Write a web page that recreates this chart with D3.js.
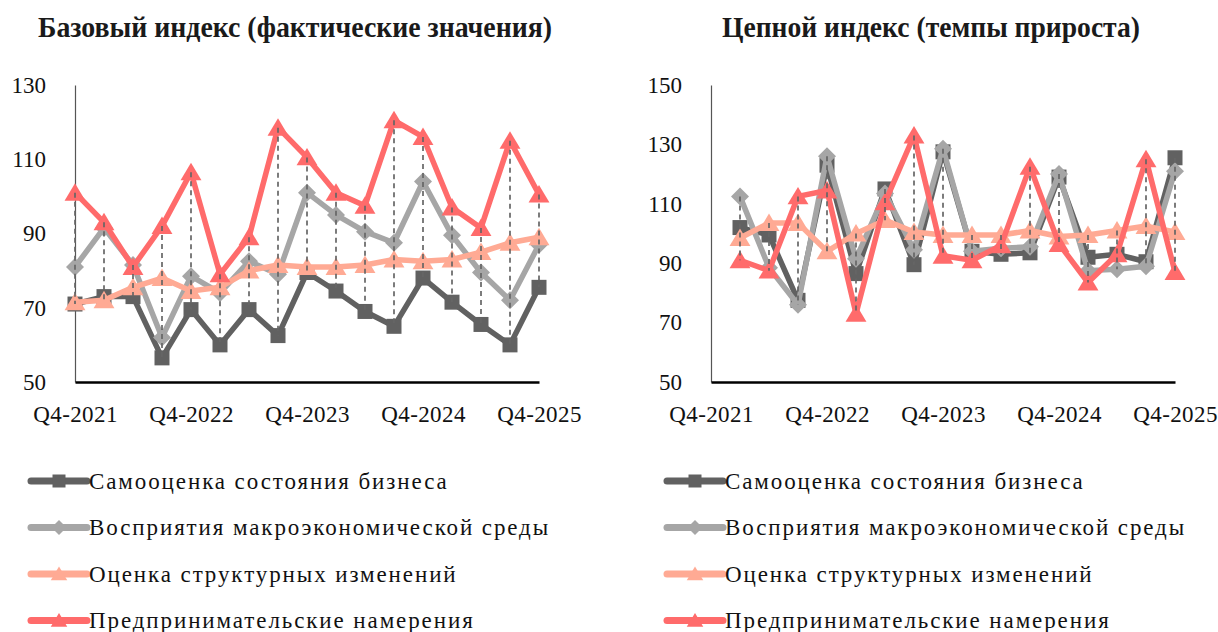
<!DOCTYPE html>
<meta charset="utf-8">
<body style="margin:0; background:#fff;">
<div id="chart"></div>
<script src="https://d3js.org/d3.v7.min.js"></script>
<script>
const quarters = ["Q4-2021", "Q1-2022", "Q2-2022", "Q3-2022", "Q4-2022", "Q1-2023", "Q2-2023", "Q3-2023",
  "Q4-2023", "Q1-2024", "Q2-2024", "Q3-2024", "Q4-2024", "Q1-2025", "Q2-2025", "Q3-2025", "Q4-2025"];
const tickLabels = ["Q4-2021", "Q4-2022", "Q4-2023", "Q4-2024", "Q4-2025"];
const seriesNames = ["Самооценка состояния бизнеса", "Восприятия макроэкономической среды",
  "Оценка структурных изменений", "Предпринимательские намерения"];

// базовый индекс
const baseSelf   = [71, 73, 73, 56.5, 69.5, 60, 69.5, 62.5, 79.5, 74.5, 69, 65, 78, 71.5, 65.5, 60, 75.5];
const baseMacro  = [81, 91.5, 81.5, 62, 78.5, 74, 82.5, 79, 101, 95, 90.5, 87.5, 104, 89.5, 79.5, 72, 87];
const baseStruct = [71.5, 72, 75.5, 78, 74.5, 75.5, 80, 81.5, 81, 81, 81.5, 83, 82.5, 83, 85, 87.5, 89];
const baseIntent = [101, 93, 81, 92, 106.5, 79, 89, 118.5, 110.5, 101, 97.5, 120.5, 116, 97, 91.5, 115, 100.5];

// цепной индекс
const chainSelf   = [null, 102, 99.5, 77.5, 123, 86.5, 115, 89.5, 127.5, 94, 93, 93.5, 119, 92, 93, 90.5, 125.5];
const chainMacro  = [null, 112.5, 88.5, 76, 126, 91.5, 113.5, 94.5, 128.5, 94, 95, 95.5, 120, 87.5, 88, 89, 121];
const chainStruct = [null, 98.5, 103.5, 103.5, 94, 100, 104.5, 100.5, 99.5, 99.5, 99.5, 101, 99, 99.5, 101, 102.5, 100.5];
const chainIntent = [null, 91, 87.5, 112.5, 114.5, 73, 110.5, 133, 92.5, 91, 96, 122.5, 96.5, 83.5, 93, 125, 87];

const colors = ["#616161", "#a6a6a6", "#ffaa94", "#ff6b6b"];
const markers = ["square", "diamond", "triangle", "triangle"];
const font = "'Liberation Serif', 'Times New Roman', serif";

const width = 1218, height = 632;
const svg = d3.select("#chart").append("svg")
  .attr("width", width)
  .attr("height", height)
  .style("font-family", font);

function markerPath(type, s) {
  if (type == "square") return d3.symbol(d3.symbolSquare, s * s)();
  if (type == "diamond") return `M0,${-s / 2}L${s / 2},0L0,${s / 2}L${-s / 2},0Z`;
  return `M0,${-s * 0.5}L${s * 0.55},${s * 0.42}L${-s * 0.55},${s * 0.42}Z`;
}

function drawChart(opts) {
  const g = svg.append("g");
  const x = d3.scalePoint().domain(quarters).range([opts.x0, opts.x1]);
  const y = d3.scaleLinear().domain(opts.domain).range([382, 85]);

  g.append("text")
    .attr("x", opts.titleX).attr("y", 37)
    .attr("text-anchor", "middle")
    .attr("font-size", 30).attr("font-weight", "bold")
    .attr("textLength", opts.titleW).attr("lengthAdjust", "spacingAndGlyphs")
    .attr("fill", "#1a1a1a")
    .text(opts.title);

  const yAxis = g.append("g")
    .attr("transform", `translate(${opts.x0},0)`)
    .call(d3.axisLeft(y).tickValues(opts.ticks).tickSize(0).tickSizeOuter(0).tickPadding(29));
  yAxis.select(".domain").attr("stroke", "#555").attr("stroke-width", 1.2);
  yAxis.selectAll("text").attr("font-size", 23).attr("font-family", font).attr("fill", "#111");

  const xAxis = g.append("g")
    .attr("transform", "translate(0,382)")
    .call(d3.axisBottom(x).tickValues(tickLabels).tickSize(0).tickSizeOuter(0).tickPadding(24));
  xAxis.select(".domain").attr("stroke", "#000").attr("stroke-width", 2.5);
  xAxis.selectAll("text").attr("font-size", 23).attr("font-family", font)
    .attr("letter-spacing", 0.4).attr("fill", "#111");

  const series = opts.series;

  series.forEach((vals, k) => {
    const line = d3.line()
      .defined(d => d != null)
      .x((d, i) => x(quarters[i]))
      .y(d => y(d));
    g.append("path")
      .datum(vals)
      .attr("d", line)
      .attr("fill", "none")
      .attr("stroke", colors[k])
      .attr("stroke-width", 5.5)
      .attr("stroke-linejoin", "round");
    const sz = markers[k] == "square" ? 15 : markers[k] == "diamond" ? 18 : 19;
    g.selectAll(null)
      .data(vals.map((v, i) => ({ v, i })).filter(d => d.v != null))
      .join("path")
      .attr("transform", d => `translate(${x(quarters[d.i])},${y(d.v)})`)
      .attr("d", markerPath(markers[k], sz))
      .attr("fill", colors[k]);
  });

  // линии максимума-минимума
  const hilo = quarters.map((q, i) => {
    const vs = series.map(s => s[i]).filter(v => v != null);
    return vs.length ? { q, hi: d3.max(vs), lo: d3.min(vs) } : null;
  }).filter(d => d);
  g.selectAll(null)
    .data(hilo)
    .join("line")
    .attr("x1", d => x(d.q)).attr("x2", d => x(d.q))
    .attr("y1", d => y(d.hi)).attr("y2", d => y(d.lo))
    .attr("stroke", "#666")
    .attr("stroke-width", 1.7)
    .attr("stroke-dasharray", "5,4");

  // легенда
  const leg = g.append("g").attr("transform", `translate(${opts.legX},0)`);
  seriesNames.forEach((name, k) => {
    const cy = 481 + k * 46.5;
    leg.append("line")
      .attr("x1", 0).attr("x2", 56).attr("y1", cy).attr("y2", cy)
      .attr("stroke", colors[k]).attr("stroke-width", 7).attr("stroke-linecap", "round");
    leg.append("path")
      .attr("transform", `translate(28,${cy})`)
      .attr("d", markerPath(markers[k], markers[k] == "square" ? 13 : 15))
      .attr("fill", colors[k]);
    leg.append("text")
      .attr("x", 58).attr("y", cy + 7.5)
      .attr("font-size", 23)
      .attr("letter-spacing", 1.9)
      .attr("fill", "#111")
      .text(name);
  });
}

drawChart({
  x0: 75, x1: 539, domain: [50, 130], ticks: [50, 70, 90, 110, 130],
  title: "Базовый индекс (фактические значения)", titleX: 295, titleW: 514,
  series: [baseSelf, baseMacro, baseStruct, baseIntent], legX: 31
});
drawChart({
  x0: 711, x1: 1175, domain: [50, 150], ticks: [50, 70, 90, 110, 130, 150],
  title: "Цепной индекс (темпы прироста)", titleX: 931, titleW: 418,
  series: [chainSelf, chainMacro, chainStruct, chainIntent], legX: 667
});
</script>
</body>
</html>
